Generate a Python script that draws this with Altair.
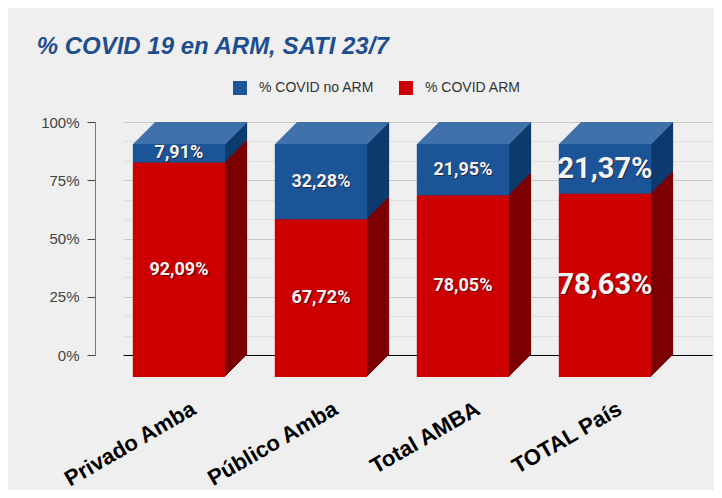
import altair as alt
import pandas as pd

categories = ["Privado Amba", "Público Amba", "Total AMBA", "TOTAL País"]
no_arm = [7.91, 32.28, 21.95, 21.37]
arm = [92.09, 67.72, 78.05, 78.63]
series = ["% COVID no ARM", "% COVID ARM"]
side_parts = ["lado no ARM", "lado ARM"]
big_label = [False, False, False, True]

BLUE, RED = "#1b5597", "#cc0000"
BLUE_SIDE, RED_SIDE = "#0d3b6e", "#7d0000"
BLUE_TOP = "#4071ab"
D = 22  # depth of the 3D extrusion in pixels


def fmt(v):
    return f"{v:.2f}".replace(".", ",") + "%"


rows = []
for i, c in enumerate(categories):
    rows.append(dict(cat=c, serie=series[1], side=side_parts[1], lo=0.0, hi=arm[i],
                     label=fmt(arm[i]), big=big_label[i]))
    rows.append(dict(cat=c, serie=series[0], side=side_parts[0], lo=arm[i], hi=arm[i] + no_arm[i],
                     label=fmt(no_arm[i]), big=big_label[i]))
df = pd.DataFrame(rows)
df_top = df[df["serie"] == series[0]]

grid_vals = [i * 100 / 12 for i in range(13)]
major = "datum.value % 25 == 0"

X = alt.X(
    "cat:N",
    sort=categories,
    scale=alt.Scale(paddingInner=0.35, paddingOuter=0.249, align=0.45),
    axis=alt.Axis(
        title=None, labelAngle=-30, labelAlign="right", labelBaseline="top",
        labelFontSize=22, labelFontWeight="bold", labelColor="black",
        labelFont="Liberation Sans", labelPadding=43, labelOffset=-12,
        ticks=False, tickSize=0, domainColor="black", domainWidth=1, grid=False,
        labelLimit=400,
    ),
)
yaxis = alt.Axis(
    title=None, values=grid_vals,
    labelExpr=f"{major} ? datum.value + '%' : ''",
    grid=True,
    gridColor={"condition": {"test": major, "value": "#cacaca"}, "value": "#dedede"},
    tickColor={"condition": {"test": major, "value": "#444444"}, "value": "transparent"},
    offset=28, tickSize=8, domainColor="#777777",
    labelFontSize=15, labelColor="#444444", labelFont="Liberation Sans", labelPadding=8,
)
yscale = alt.Scale(domain=[0, 100], nice=False)


def Y(field):
    return alt.Y(field, scale=yscale, axis=yaxis)


side_scale = alt.Scale(domain=side_parts, range=[BLUE_SIDE, RED_SIDE])
front_scale = alt.Scale(domain=series, range=[BLUE, RED])

base = alt.Chart(df).encode(x=X, y=Y("lo:Q"), y2="hi:Q")

layers = []
for j in range(D):
    layers.append(
        base.mark_bar(xOffset=-j, x2Offset=-j, yOffset=j, y2Offset=j).encode(
            fill=alt.Fill("side:N", scale=side_scale, legend=None)
        )
    )
    layers.append(
        alt.Chart(df_top)
        .mark_bar(color=BLUE_TOP, xOffset=-j, x2Offset=-j, yOffset=j, y2Offset=j + 1)
        .encode(x=X, y=Y("hi:Q"), y2="hi:Q")
    )

front = base.mark_bar(xOffset=-D, x2Offset=-D, yOffset=D, y2Offset=D).encode(
    color=alt.Color(
        "serie:N", scale=front_scale,
        legend=alt.Legend(
            title=None, orient="none", legendX=110, legendY=-41, direction="horizontal",
            symbolType="square", symbolSize=196, symbolStrokeWidth=0, symbolOpacity=1,
            labelFontSize=14, labelFont="Liberation Sans", labelColor="#333333",
            labelOffset=12, columnPadding=24,
        ),
    )
)
layers.append(front)

text_base = alt.Chart(df).transform_calculate(mid="(datum.lo + datum.hi) / 2").encode(
    x=X, y=Y("mid:Q"), text="label:N",
    size=alt.condition("datum.big", alt.value(29), alt.value(18)),
)
layers.append(
    text_base.mark_text(xOffset=-D, yOffset=D, dx=1, dy=1, font="Roboto", fontWeight="bold",
                        color="#2a0000", opacity=0.55, align="center", baseline="middle")
)
layers.append(
    text_base.mark_text(xOffset=-D, yOffset=D, font="Roboto", fontWeight="bold",
                        color="#f4f4f4", align="center", baseline="middle")
)

chart = (
    alt.layer(*layers)
    .properties(
        width=589, height=233,
        title=alt.TitleParams(
            "% COVID 19 en ARM, SATI 23/7", anchor="start", frame="bounds",
            font="Liberation Sans", fontSize=24, fontStyle="italic", fontWeight="bold",
            color="#1f4e8c", offset=22, dx=-4,
        ),
        padding={"left": 115, "top": 114, "right": 2, "bottom": 135},
        autosize=alt.AutoSizeParams(type="none"),
    )
    .configure(background="#efefef")
    .configure_view(stroke=None)
)

chart.save("out.html", embed_options={"renderer": "svg", "actions": False})
